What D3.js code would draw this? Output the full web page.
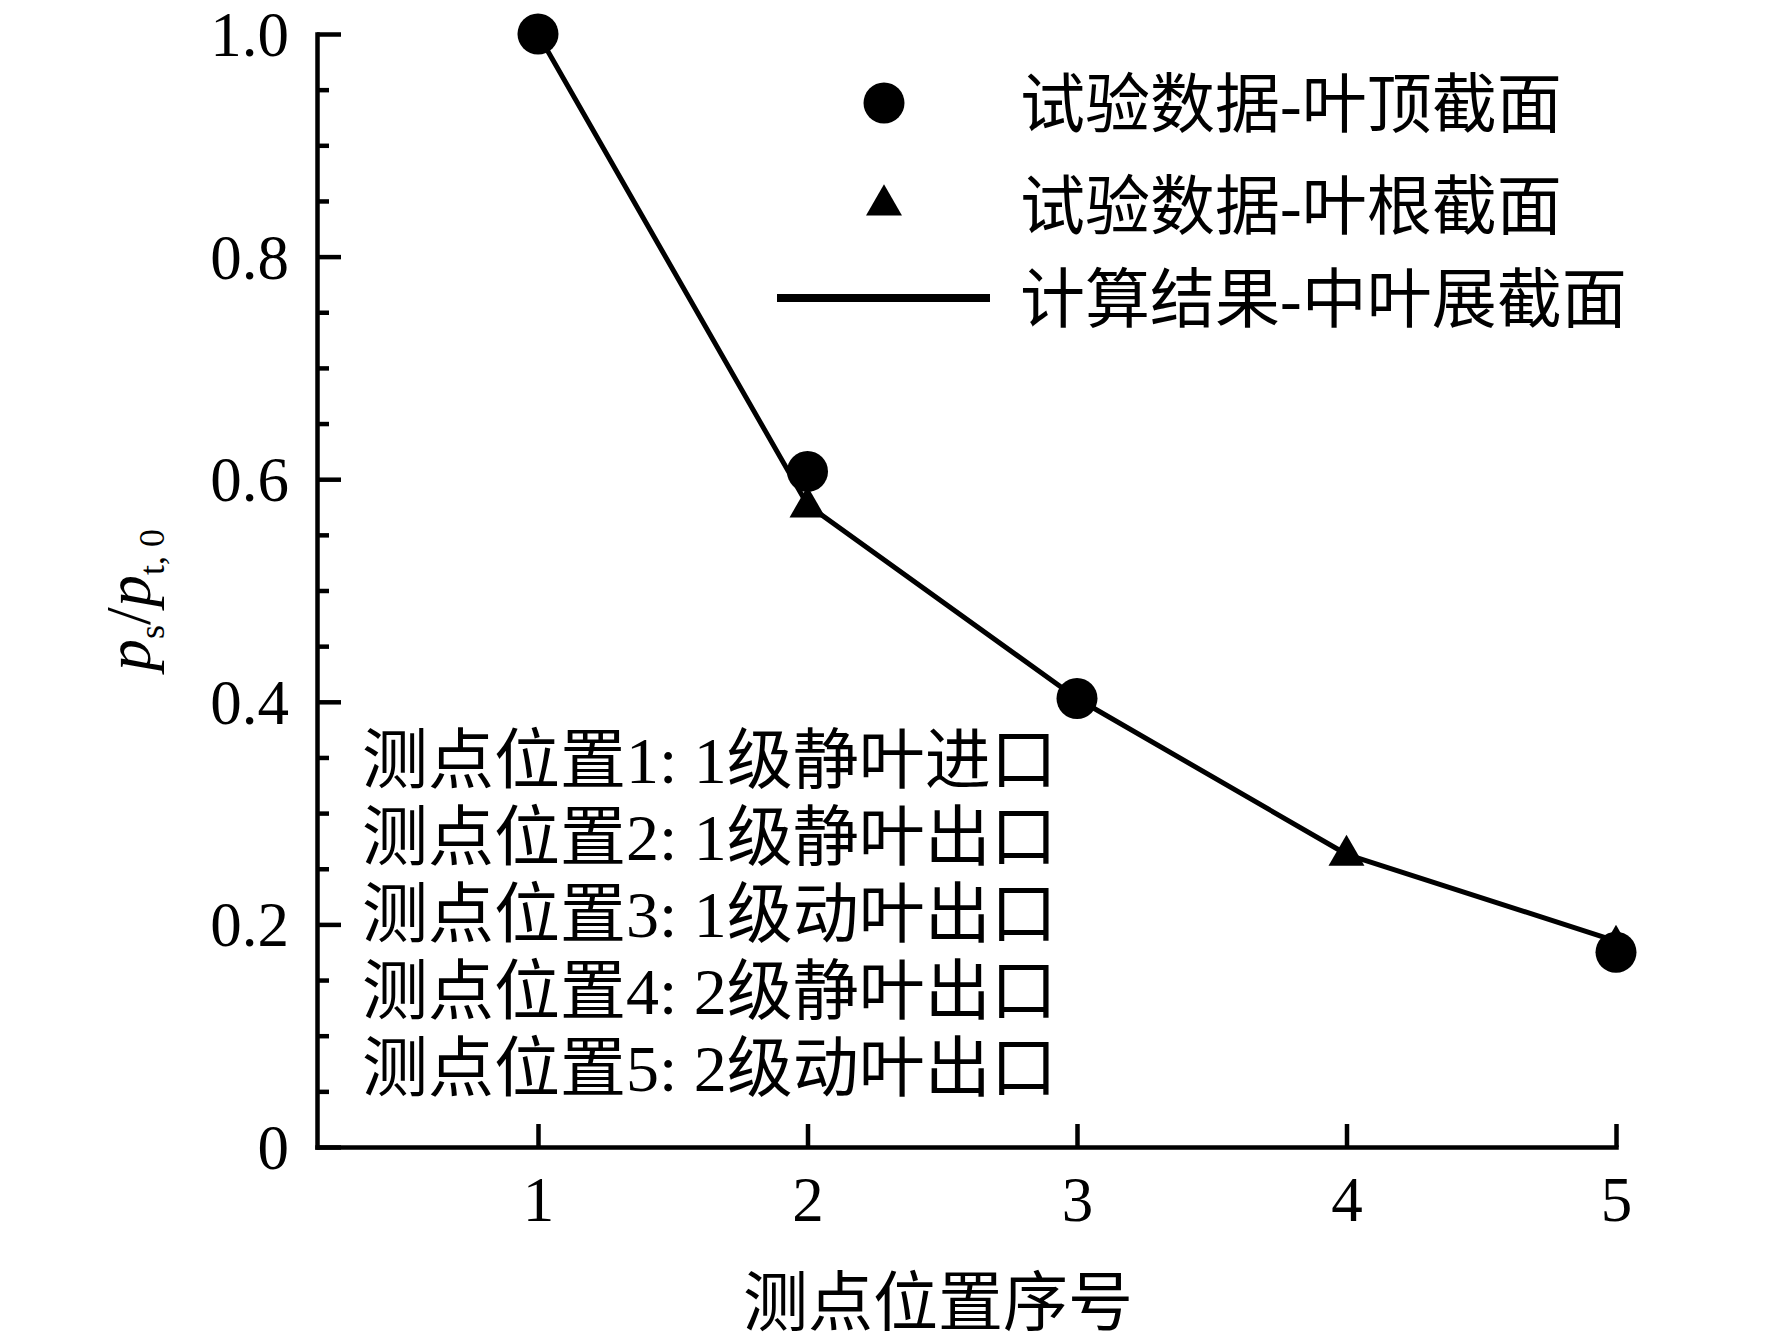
<!DOCTYPE html>
<html>
<head>
<meta charset="utf-8">
<script src="https://cdn.jsdelivr.net/npm/d3@7"></script>
<style>
	html, body { margin: 0; padding: 0; background: #fff; }
	svg { display: block; }
	text { font-family: "Liberation Serif", "Noto Sans CJK SC", serif; fill: #000; }
</style>
</head>
<body>
<svg id="chart-plot" width="1772" height="1344" viewBox="0 0 1772 1344"></svg>
<script>

// measuring positions 1..5
const positions = [1, 2, 3, 4, 5];
const position_labels = ["1", "2", "3", "4", "5"];

// computed result, mid-span section (solid line)
const calc_mid = [1.0, 0.577, 0.403, 0.263, 0.185];

// test data, blade tip section (circles)
const tip_x = [1, 2, 3, 5];
const tip_values = [1.0, 0.607, 0.403, 0.175];

// test data, blade root section (triangles)
const root_x = [2, 4, 5];
const root_values = [0.575, 0.262, 0.181];

const y_major = [0, 0.2, 0.4, 0.6, 0.8, 1.0];
const y_major_labels = ["0", "0.2", "0.4", "0.6", "0.8", "1.0"];

const legend_labels = ["试验数据-叶顶截面", "试验数据-叶根截面", "计算结果-中叶展截面"];
const note_lines = [
	"测点位置1: 1级静叶进口",
	"测点位置2: 1级静叶出口",
	"测点位置3: 1级动叶出口",
	"测点位置4: 2级静叶出口",
	"测点位置5: 2级动叶出口"
];
const x_title = "测点位置序号";

function drawChart(svg_id) {
	const svg = d3.select('#' + svg_id);

	const left = 317, right = 1616, top = 34, bottom = 1147;

	const x = d3.scaleLinear().domain([0.18, 5]).range([left, right]);
	const y = d3.scaleLinear().domain([0, 1]).range([bottom, top]);

	// minor ticks on y every 0.05
	const minor_vals = d3.range(0, 21).map(i => i * 0.05).filter(v => Math.abs(v * 5 - Math.round(v * 5)) > 1e-6);
	svg.append("g")
		.attr("transform", "translate(" + left + ",0)")
		.call(d3.axisLeft(y).tickValues(minor_vals).tickSize(-12).tickSizeOuter(0).tickFormat(""))
		.call(g => g.select(".domain").remove())
		.call(g => g.selectAll("line").attr("stroke", "#000").attr("stroke-width", 4.5));

	// y axis
	const y_axis = svg.append("g")
		.attr("transform", "translate(" + left + ",0)")
		.call(d3.axisLeft(y)
			.tickValues(y_major)
			.tickSize(-24)
			.tickSizeOuter(0)
			.tickPadding(28)
			.tickFormat((d, i) => y_major_labels[i]));
	y_axis.select(".domain").attr("stroke", "#000").attr("stroke-width", 4.5).attr("stroke-linecap", "square");
	y_axis.selectAll("line").attr("stroke", "#000").attr("stroke-width", 4.5);
	y_axis.selectAll("text")
		.style("font-size", "63px")
		.style("font-family", "'Liberation Serif', serif")
		.attr("dy", "0.34em");

	// x axis
	const x_axis = svg.append("g")
		.attr("transform", "translate(0," + bottom + ")")
		.call(d3.axisBottom(x)
			.tickValues(positions)
			.tickSize(-23)
			.tickSizeOuter(0)
			.tickPadding(29)
			.tickFormat((d, i) => position_labels[i]));
	x_axis.select(".domain").attr("stroke", "#000").attr("stroke-width", 4.5).attr("stroke-linecap", "square");
	x_axis.selectAll("line").attr("stroke", "#000").attr("stroke-width", 4.5);
	x_axis.selectAll("text")
		.style("font-size", "63px")
		.style("font-family", "'Liberation Serif', serif");

	// calculated line
	const line = d3.line()
		.x((d, i) => x(positions[i]))
		.y(d => y(d));
	svg.append("path")
		.datum(calc_mid)
		.attr("d", line)
		.attr("fill", "none")
		.attr("stroke", "#000")
		.attr("stroke-width", 5)
		.attr("stroke-linejoin", "round");

	// root triangles
	const tri = d3.symbol().type(d3.symbolTriangle).size(560);
	svg.append("g").selectAll("path")
		.data(root_values)
		.enter()
		.append("path")
			.attr("d", tri)
			.attr("transform", (d, i) => "translate(" + x(root_x[i]) + "," + y(d) + ")")
			.attr("fill", "#000");

	// tip circles
	svg.append("g").selectAll("circle")
		.data(tip_values)
		.enter()
		.append("circle")
			.attr("cx", (d, i) => x(tip_x[i]))
			.attr("cy", d => y(d))
			.attr("r", 20.5)
			.attr("fill", "#000");

	// legend
	const legend = svg.append("g");
	legend.append("circle").attr("cx", 884).attr("cy", 103).attr("r", 20.5).attr("fill", "#000");
	legend.append("path").attr("d", tri).attr("transform", "translate(884,205)").attr("fill", "#000");
	legend.append("line")
		.attr("x1", 777).attr("x2", 990)
		.attr("y1", 298).attr("y2", 298)
		.attr("stroke", "#000").attr("stroke-width", 8);
	const legend_y = [103, 205, 298];
	legend.selectAll("text")
		.data(legend_labels)
		.enter()
		.append("text")
			.attr("x", 1020)
			.attr("y", (d, i) => legend_y[i] + 24)
			.style("font-size", "65px")
			.text(d => d);

	// notes for measuring positions
	svg.append("g").selectAll("text")
		.data(note_lines)
		.enter()
		.append("text")
			.attr("x", 362)
			.attr("y", (d, i) => 783 + i * 77)
			.style("font-size", "66px")
			.text(d => d);

	// x title
	svg.append("text")
		.attr("x", 938)
		.attr("y", 1325)
		.attr("text-anchor", "middle")
		.style("font-size", "65px")
		.text(x_title);

	// y title: p_s / p_t,0
	const yt = svg.append("text")
		.attr("transform", "translate(150,600) rotate(-90)")
		.attr("text-anchor", "middle")
		.style("font-size", "64px")
		.style("font-family", "'Liberation Serif', serif");
	yt.append("tspan").style("font-style", "italic").text("p");
	yt.append("tspan").attr("dy", 14).style("font-size", "36px").text("s");
	yt.append("tspan").attr("dy", -14).text("/");
	yt.append("tspan").style("font-style", "italic").text("p");
	yt.append("tspan").attr("dy", 14).style("font-size", "36px").text("t, 0");
}

function whenDocumentLoaded(action) {
	if (document.readyState === "loading") {
		document.addEventListener("DOMContentLoaded", action);
	} else {
		action();
	}
}

whenDocumentLoaded(() => {
	drawChart('chart-plot');
});
</script>
</body>
</html>
